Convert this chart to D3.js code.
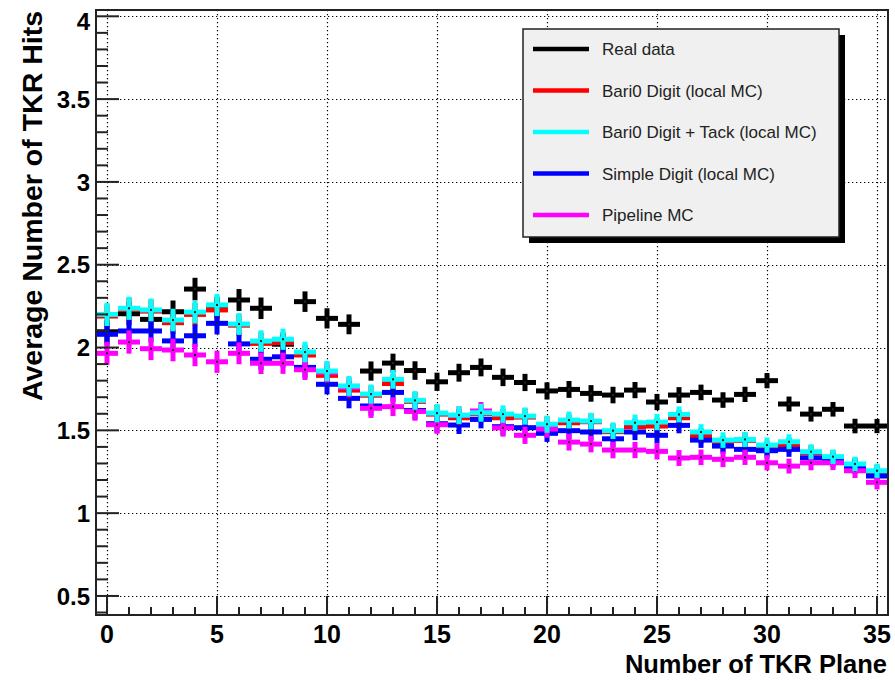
<!DOCTYPE html>
<html>
<head>
<meta charset="utf-8">
<style>
body { margin: 0; background: #fff; }
.tickLabel { font-family: "Liberation Sans", Arial, sans-serif; font-weight: bold; fill: #000; }
.axisTitle { font-family: "Liberation Sans", Arial, sans-serif; font-weight: bold; fill: #000; }
.legendText { font-family: "Liberation Sans", Arial, sans-serif; font-size: 17px; fill: #222; }
</style>
</head>
<body>
<svg width="895" height="681"></svg>
<script src="https://d3js.org/d3.v7.min.js"></script>
<script>
// TKR plane index (bin centres)
var planes = [0,1,2,3,4,5,6,7,8,9,10,11,12,13,14,15,16,17,18,19,20,21,22,23,24,25,26,27,28,29,30,31,32,33,34,35];

var realData = [2.095,2.204,2.170,2.216,2.353,2.240,2.287,2.237,2.020,2.277,2.176,2.140,
                1.858,1.906,1.861,1.793,1.848,1.880,1.820,1.789,1.738,1.747,1.723,1.713,
                1.743,1.671,1.713,1.729,1.683,1.717,1.800,1.659,1.598,1.627,1.526,1.526];
var bari0Digit = [2.190,2.230,2.220,2.150,2.200,2.227,2.135,2.025,2.030,1.955,1.832,1.743,
                  1.712,1.783,1.675,1.598,1.576,1.600,1.576,1.580,1.532,1.546,1.552,1.492,
                  1.522,1.526,1.576,1.466,1.417,1.440,1.391,1.411,1.365,1.335,1.290,1.250];
var bari0Tack = [2.200,2.237,2.227,2.166,2.214,2.257,2.142,2.039,2.050,1.973,1.858,1.768,
                 1.719,1.808,1.681,1.604,1.592,1.606,1.598,1.586,1.537,1.562,1.556,1.498,
                 1.546,1.550,1.596,1.490,1.441,1.445,1.411,1.431,1.371,1.341,1.297,1.256];
var simpleDigit = [2.080,2.100,2.100,2.040,2.071,2.146,2.022,1.929,1.944,1.880,1.778,1.693,
                   1.647,1.729,1.620,1.540,1.532,1.566,1.522,1.516,1.482,1.498,1.490,1.449,
                   1.490,1.470,1.530,1.441,1.405,1.385,1.377,1.385,1.334,1.320,1.280,1.224];
var pipelineMC = [1.965,2.033,1.993,1.985,1.955,1.914,1.965,1.905,1.905,1.866,1.850,1.760,
                  1.633,1.643,1.614,1.534,1.590,1.617,1.515,1.470,1.508,1.429,1.417,1.381,
                  1.381,1.373,1.333,1.337,1.325,1.337,1.304,1.284,1.304,1.304,1.256,1.186];
// statistical error per plane (approx.)
var binErr = [0.070,0.070,0.069,0.068,0.068,0.067,0.066,0.065,0.064,0.062,0.061,0.060,
              0.058,0.057,0.056,0.055,0.054,0.054,0.053,0.052,0.052,0.051,0.050,0.050,
              0.049,0.049,0.048,0.047,0.047,0.046,0.046,0.045,0.045,0.044,0.044,0.043];

var legendNames = ["Real data", "Bari0 Digit (local MC)", "Bari0 Digit + Tack (local MC)", "Simple Digit (local MC)", "Pipeline MC"];
var legendColors = ["#000000", "#ff0000", "#00ffff", "#0000ff", "#ff00ff"];

var xTitle = "Number of TKR Plane";
var yTitle = "Average Number of TKR Hits";

var svg = d3.select("svg");
var frame = {left: 96, right: 888, top: 10, bottom: 615};

var x = d3.scaleLinear().domain([-0.5, 35.5]).range([frame.left, frame.right]);
var y = d3.scaleLinear().domain([0.385, 4.038]).range([frame.bottom, frame.top]);

var xMajor = [0,5,10,15,20,25,30,35];
var yMajor = [0.5,1,1.5,2,2.5,3,3.5,4];
var yMinor = d3.range(4, 41).map(function(i) { return i / 10; });

// dotted grid
var grid = svg.append("g").attr("stroke", "#000").attr("stroke-width", 1.2)
  .attr("stroke-dasharray", "1.3,2.7");
grid.selectAll("line.gx").data(xMajor).enter().append("line")
  .attr("x1", function(d) { return Math.round(x(d)) + 0.5; })
  .attr("x2", function(d) { return Math.round(x(d)) + 0.5; })
  .attr("y1", frame.top).attr("y2", frame.bottom);
grid.selectAll("line.gy").data(yMajor).enter().append("line")
  .attr("y1", function(d) { return Math.round(y(d)) + 0.5; })
  .attr("y2", function(d) { return Math.round(y(d)) + 0.5; })
  .attr("x1", frame.left).attr("x2", frame.right);

// series, drawn in this order so the overlaps look like the original
var series = [
  {vals: realData, color: legendColors[0]},
  {vals: bari0Digit, color: legendColors[1]},
  {vals: simpleDigit, color: legendColors[3]},
  {vals: pipelineMC, color: legendColors[4]},
  {vals: bari0Tack, color: legendColors[2]}
];

var plot = svg.append("g");
series.forEach(function(s) {
  var pts = planes.map(function(p, i) { return {p: p, v: s.vals[i], e: binErr[i]}; });
  var g = plot.append("g").attr("stroke", s.color).attr("stroke-width", 5);
  g.selectAll("line.h").data(pts).enter().append("line")
    .attr("x1", function(d) { return x(d.p - 0.5); })
    .attr("x2", function(d) { return x(d.p + 0.5); })
    .attr("y1", function(d) { return y(d.v); })
    .attr("y2", function(d) { return y(d.v); });
  g.selectAll("line.v").data(pts).enter().append("line")
    .attr("x1", function(d) { return x(d.p); })
    .attr("x2", function(d) { return x(d.p); })
    .attr("y1", function(d) { return y(d.v + d.e); })
    .attr("y2", function(d) { return y(d.v - d.e); });
  plot.append("g").selectAll("rect").data(pts).enter().append("rect")
    .attr("x", function(d) { return x(d.p) - 1; })
    .attr("y", function(d) { return y(d.v) - 1; })
    .attr("width", 2).attr("height", 2)
    .attr("fill", "#222");
});

// ticks (inside the frame)
var ticks = svg.append("g").attr("stroke", "#222").attr("stroke-width", 2);
ticks.selectAll("line.tx").data(planes).enter().append("line")
  .attr("x1", function(d) { return x(d); })
  .attr("x2", function(d) { return x(d); })
  .attr("y1", frame.bottom)
  .attr("y2", function(d) { return d % 5 === 0 ? frame.bottom - 19 : frame.bottom - 8; });
ticks.selectAll("line.ty").data(yMinor).enter().append("line")
  .attr("y1", function(d) { return y(d); })
  .attr("y2", function(d) { return y(d); })
  .attr("x1", frame.left)
  .attr("x2", function(d) { return Math.round(d * 10) % 5 === 0 ? frame.left + 23 : frame.left + 12; });

// frame
svg.append("rect")
  .attr("x", frame.left).attr("y", frame.top)
  .attr("width", frame.right - frame.left).attr("height", frame.bottom - frame.top)
  .attr("fill", "none").attr("stroke", "#222").attr("stroke-width", 2);

// tick labels
svg.append("g").selectAll("text").data(xMajor).enter().append("text")
  .attr("class", "tickLabel")
  .attr("x", function(d) { return x(d); })
  .attr("y", 643)
  .attr("text-anchor", "middle")
  .attr("font-size", 25)
  .text(function(d) { return d; });

svg.append("g").selectAll("text").data(yMajor).enter().append("text")
  .attr("class", "tickLabel")
  .attr("x", 90)
  .attr("y", function(d) { return Math.max(y(d), 21); })
  .attr("dy", "0.36em")
  .attr("text-anchor", "end")
  .attr("font-size", 24)
  .text(function(d) { return d; });

// axis titles
svg.append("text").attr("class", "axisTitle")
  .attr("x", 887).attr("y", 673)
  .attr("text-anchor", "end").attr("font-size", 25.5)
  .text(xTitle);

svg.append("text").attr("class", "axisTitle")
  .attr("transform", "translate(42,11) rotate(-90)")
  .attr("text-anchor", "end").attr("font-size", 28.5)
  .text(yTitle);

// legend
var leg = {x: 523, y: 29, w: 316, h: 208};
svg.append("rect").attr("x", leg.x + 6).attr("y", leg.y + 6)
  .attr("width", leg.w).attr("height", leg.h).attr("fill", "#000");
svg.append("rect").attr("x", leg.x).attr("y", leg.y)
  .attr("width", leg.w).attr("height", leg.h)
  .attr("fill", "#f0f0f0").attr("stroke", "#222").attr("stroke-width", 1.5);

var rowY = d3.scalePoint().domain(legendNames).range([49, 215]);
var entries = svg.append("g").selectAll("g").data(legendNames).enter().append("g")
  .attr("transform", function(d) { return "translate(0," + rowY(d) + ")"; });
entries.append("line")
  .attr("x1", 533).attr("x2", 589).attr("y1", 0).attr("y2", 0)
  .attr("stroke", function(d, i) { return legendColors[i]; })
  .attr("stroke-width", 4.5);
entries.append("text").attr("class", "legendText")
  .attr("x", 602).attr("dy", "0.36em")
  .text(function(d) { return d; });
</script>
</body>
</html>
